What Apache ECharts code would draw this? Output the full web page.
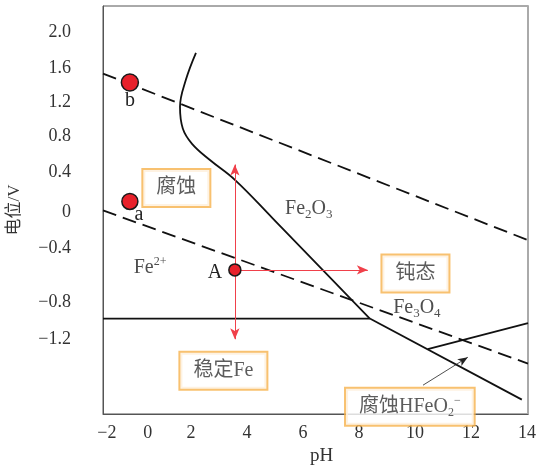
<!DOCTYPE html>
<html>
<head>
<meta charset="utf-8">
<script src="https://cdn.jsdelivr.net/npm/echarts@6/dist/echarts.min.js"></script>
<style>
  html, body {margin: 0; padding: 0; background: #fff;}
  #chart {width: 537px; height: 467px;}
</style>
</head>
<body>
<div id="chart"></div>
<script>
// axis ranges (pH, V)
const xMin = -1.14, xMax = 14.04;
const yMin = -2.24, yMax = 2.29;

// tick labels, placed where the reference prints them
const xTickPos = [-1.0, 0.46, 2, 4, 6, 8, 10, 12, 14];
const xTickText = ['−2', '0', '2', '4', '6', '8', '10', '12', '14'];
const yTickPos = [2.0, 1.6, 1.22, 0.84, 0.44, 0, -0.4, -1.0, -1.41];
const yTickText = ['2.0', '1.6', '1.2', '0.8', '0.4', '0', '−0.4', '−0.8', '−1.2'];

// boundary lines
const lineO2 = [[-1.14, 1.54], [14.04, -0.31]];
const lineH2 = [[-1.14, 0.02], [14.04, -1.68]];
const curveFe2O3 = [[2.18, 1.77], [1.82, 1.47], [1.61, 1.17], [1.71, 0.93], [2.04, 0.76],
  [2.68, 0.58], [3.57, 0.36], [4.93, -0.07], [8.39, -1.18]];
const lineFe = [[-1.14, -1.18], [8.39, -1.18]];
const lineFeOx = [[8.39, -1.18], [13.82, -2.08]];
const lineHFeO2 = [[10.46, -1.52], [14.04, -1.23]];

// marked points
const pointNames = ['b', 'a', 'A'];
const pointCoords = [[-0.18, 1.44], [-0.18, 0.12], [3.57, -0.64]];

// arrows
const redArrows = [
  [[3.57, -0.64], [3.57, 0.53]],
  [[3.57, -0.64], [3.57, -1.41]],
  [[3.57, -0.64], [8.32, -0.64]]
];
const blackArrow = [[10.29, -1.92], [11.89, -1.61]];

// region names
const regionText = ['{fm|Fe}{sup|2+}', '{fm|Fe}{sub|2}{fm|O}{sub|3}', '{fm|Fe}{sub|3}{fm|O}{sub|4}'];
const regionCoords = [[0.54, -0.62], [6.21, 0.04], [10.07, -1.06]];

// boxed notes
const boxText = ['{b|腐蚀}', '{b|稳定Fe}', '{b|钝态}', '{b|腐蚀HFeO}{bsub|2}{bsup|−}'];
const boxCoords = [[1.48, 0.27], [3.16, -1.76], [10.02, -0.68], [9.82, -2.16]];

const serif = "'Liberation Serif', 'Noto Sans CJK SC', serif";
const pick = (pos, text) => v => {
  const i = pos.findIndex(p => Math.abs(p - v) < 1e-6);
  return i >= 0 ? text[i] : '';
};

const rich = {
  fm: {fontFamily: serif, fontSize: 20, color: '#222', lineHeight: 24},
  sub: {fontFamily: serif, fontSize: 13, color: '#222', lineHeight: 12, verticalAlign: 'bottom'},
  sup: {fontFamily: serif, fontSize: 12, color: '#222', lineHeight: 12, verticalAlign: 'top'},
  b: {fontFamily: serif, fontSize: 20, color: '#333', lineHeight: 24},
  bsub: {fontFamily: serif, fontSize: 12, color: '#333', lineHeight: 12, verticalAlign: 'bottom'},
  bsup: {fontFamily: serif, fontSize: 12, color: '#333', lineHeight: 12, verticalAlign: 'top'}
};

const solid = {color: '#111', width: 1.8};
const dashed = {color: '#111', width: 1.8, type: [14, 7]};
const seg = (pairs) => pairs.map(p => [{coord: p[0]}, {coord: p[1]}]);

const chart = echarts.init(document.getElementById('chart'));
chart.setOption({
  animation: false,
  grid: {
    left: 103, right: 9, top: 6, bottom: 53,
    show: true, borderColor: '#555', borderWidth: 1,
    outerBoundsMode: 'none'
  },
  xAxis: {
    type: 'value', min: xMin, max: xMax,
    name: 'pH', nameLocation: 'middle', nameGap: 29,
    nameTextStyle: {fontFamily: serif, fontSize: 19, color: '#333', padding: [0, 0, 0, 12]},
    axisLine: {show: true, onZero: false, lineStyle: {color: '#555', width: 1}},
    axisTick: {show: false},
    splitLine: {show: false},
    axisLabel: {
      customValues: xTickPos, formatter: pick(xTickPos, xTickText),
      fontFamily: serif, fontSize: 18, color: '#333', margin: 10
    }
  },
  yAxis: [{
    type: 'value', min: yMin, max: yMax,
    name: '电位/V', nameLocation: 'middle', nameGap: 80,
    nameTextStyle: {fontFamily: serif, fontSize: 17, color: '#333'},
    axisLine: {show: true, onZero: false, lineStyle: {color: '#555', width: 1}},
    axisTick: {show: false},
    splitLine: {show: false},
    axisLabel: {
      customValues: yTickPos, formatter: pick(yTickPos, yTickText),
      fontFamily: serif, fontSize: 18, color: '#333', margin: 32
    }
  }, {
    type: 'value', min: yMin, max: yMax, position: 'right',
    axisLine: {show: true, onZero: false, lineStyle: {color: '#aaa', width: 2}},
    axisTick: {show: false}, axisLabel: {show: false}, splitLine: {show: false}
  }],
  series: [
    {type: 'line', data: lineO2, symbol: 'none', lineStyle: dashed},
    {type: 'line', data: lineH2, symbol: 'none', lineStyle: dashed},
    {type: 'line', data: curveFe2O3, symbol: 'none', smooth: 0.4, lineStyle: solid},
    {type: 'line', data: lineFe, symbol: 'none', lineStyle: solid},
    {type: 'line', data: lineFeOx, symbol: 'none', lineStyle: solid},
    {type: 'line', data: lineHFeO2, symbol: 'none', lineStyle: solid},
    {
      type: 'line', data: [], silent: true,
      markLine: {
        silent: true, symbol: ['none', 'arrow'], symbolSize: [7, 11],
        label: {show: false},
        lineStyle: {color: '#f0404a', width: 1, type: 'solid'},
        itemStyle: {color: '#ee2530'},
        data: seg(redArrows)
      }
    },
    {
      type: 'line', data: [], silent: true,
      markLine: {
        silent: true, symbol: ['none', 'arrow'], symbolSize: [6, 10],
        label: {show: false},
        lineStyle: {color: '#222', width: 0.8, type: 'solid'},
        itemStyle: {color: '#222'},
        data: seg([blackArrow])
      }
    },
    {
      type: 'scatter', z: 5,
      data: pointCoords.map((c, i) => ({
        value: c,
        symbolSize: [17, 16, 12][i],
        label: {offset: [[0, 18], [9, 13], [-20, 3]][i]}
      })),
      itemStyle: {color: '#e8212b', borderColor: '#1a1a1a', borderWidth: 1.5, opacity: 1},
      label: {
        show: true, position: 'inside',
        formatter: p => pointNames[p.dataIndex],
        fontFamily: serif, fontSize: 20, color: '#222'
      }
    },
    {
      type: 'scatter', symbolSize: 0, z: 6,
      data: regionCoords,
      label: {
        show: true, position: 'inside',
        formatter: p => regionText[p.dataIndex],
        rich: rich
      }
    },
    {
      type: 'scatter', symbolSize: 0, z: 7,
      data: boxCoords,
      label: {
        show: true, position: 'inside',
        formatter: p => boxText[p.dataIndex],
        rich: rich,
        backgroundColor: '#fff', borderColor: '#f6b14c', borderWidth: 2,
        padding: [6, 13]
      }
    }
  ]
});
</script>
</body>
</html>
